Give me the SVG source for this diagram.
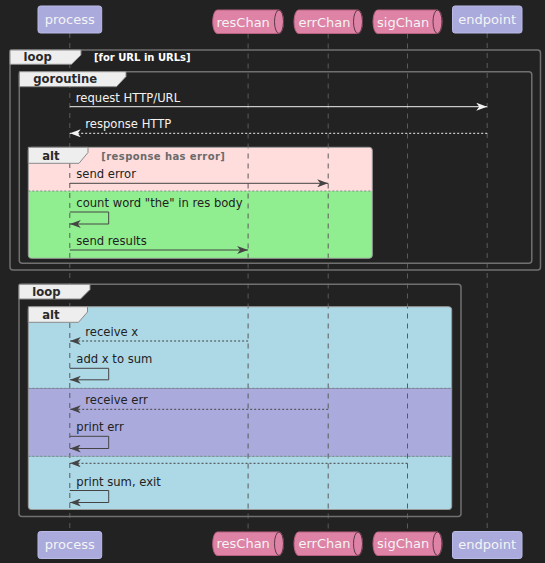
<svg xmlns="http://www.w3.org/2000/svg" width="545" height="563" viewBox="0 0 545 563">
<style>
text{font-family:"DejaVu Sans","Liberation Sans",sans-serif}
.pt{font-size:13px;fill:#f4f4f4}
.box{fill:#AAAADD;stroke:#babae6;stroke-width:1}
.q{fill:#DE82A6;stroke:#b8607f;stroke-width:1}
.cap{fill:none;stroke:#5a3a48;stroke-width:1}
.life{stroke:#5a5a5a;stroke-width:1;stroke-dasharray:5 5}
.frame{fill:none;stroke:#707070;stroke-width:1.5}
.aframe{fill:none;stroke:#9a9a9a;stroke-width:1}
.tab{fill:#EEEEEE;stroke:#8a8a8a;stroke-width:1}
.tl{font-size:11.6px;font-weight:bold;fill:#2a2a2a}
.gw{font-size:10px;font-weight:bold;fill:#ffffff}
.gg{font-size:10px;font-weight:bold;fill:#6a6a6a;letter-spacing:0.4px}
.div{stroke:#7a8a8a;stroke-width:1;stroke-dasharray:2 2}
.mw{font-size:11.6px;fill:#f2f2f2}
.md{font-size:11.6px;fill:#222222}
.lw{stroke:#f2f2f2;stroke-width:1;fill:none}
.ld{stroke:#444444;stroke-width:1;fill:none}
.dash{stroke-dasharray:2 2}
</style>
<defs>
<marker id="aw" viewBox="0 0 11 8" refX="11" refY="4" markerWidth="11" markerHeight="8" markerUnits="userSpaceOnUse" orient="auto"><path d="M0,0 L11,4 L0,8 L3,4 Z" fill="#f2f2f2"/></marker>
<marker id="ad" viewBox="0 0 11 8" refX="11" refY="4" markerWidth="11" markerHeight="8" markerUnits="userSpaceOnUse" orient="auto"><path d="M0,0 L11,4 L0,8 L3,4 Z" fill="#444444"/></marker>
</defs>
<rect x="0" y="0" width="545" height="563" fill="#222222"/>

<g id="alt-fills">
<path d="M31,147.3 H369.3 Q372.3,147.3 372.3,150.3 V191 H28.3 V150.3 Q28.3,147.3 31,147.3 Z" fill="#FFDDDD"/>
<path d="M28.3,191 H372.3 V255.3 Q372.3,258.3 369.3,258.3 H31.3 Q28.3,258.3 28.3,255.3 Z" fill="#90EE90"/>
<path d="M31,306.7 H448.7 Q451.7,306.7 451.7,309.7 V388.3 H28.3 V309.7 Q28.3,306.7 31,306.7 Z" fill="#ADD8E6"/>
<rect x="28.3" y="388.3" width="423.4" height="68" fill="#AAAADD"/>
<path d="M28.3,456.3 H451.7 V506.5 Q451.7,509.5 448.7,509.5 H31.3 Q28.3,509.5 28.3,506.5 Z" fill="#ADD8E6"/>
</g>

<g id="lifelines">
<line class="life" x1="69.8" y1="33" x2="69.8" y2="531.5"/>
<line class="life" x1="248.1" y1="33.5" x2="248.1" y2="532"/>
<line class="life" x1="328.2" y1="33.5" x2="328.2" y2="532"/>
<line class="life" x1="407.5" y1="33.5" x2="407.5" y2="532"/>
<line class="life" x1="487.2" y1="33" x2="487.2" y2="531.5"/>
</g>

<g id="loop1">
<rect class="frame" x="10" y="50" width="530.5" height="220" rx="3"/>
<path class="tab" d="M10,50 H81 V55 L71.5,64.3 H10 Z"/>
<text class="tl" x="23.5" y="61">loop</text>
<text class="gw" x="94" y="61">[for URL in URLs]</text>
</g>
<g id="goroutine">
<rect class="frame" x="19.3" y="71.7" width="512.5" height="191.6" rx="3"/>
<path class="tab" d="M19.3,71.7 H126 V76.5 L116.5,86.7 H19.3 Z"/>
<text class="tl" x="33.3" y="83">goroutine</text>
</g>
<g id="alt1">
<rect class="aframe" x="28.3" y="147.3" width="344" height="111" rx="3"/>
<path class="tab" d="M28.3,147.3 H88 V152.5 L79,163.3 H28.3 Z"/>
<text class="tl" x="42.3" y="159.5">alt</text>
<text class="gg" x="101.3" y="159.5">[response has error]</text>
<line class="div" x1="28.3" y1="191" x2="372.3" y2="191"/>
</g>
<g id="loop2">
<rect class="frame" x="19" y="284.3" width="442" height="232.2" rx="3"/>
<path class="tab" d="M19,284.3 H90 V289.5 L80.5,299 H19 Z"/>
<text class="tl" x="32.3" y="295.5">loop</text>
</g>
<g id="alt2">
<rect class="aframe" x="28.3" y="306.7" width="423.4" height="202.8" rx="3"/>
<path class="tab" d="M28.3,306.7 H87.5 V312 L78.5,322.3 H28.3 Z"/>
<text class="tl" x="42.3" y="318.5">alt</text>
<line class="div" x1="28.3" y1="388.3" x2="451.7" y2="388.3"/>
<line class="div" x1="28.3" y1="456.3" x2="451.7" y2="456.3"/>
</g>

<g id="process">
<rect class="box" x="38" y="6" width="63.7" height="27" rx="2.5"/>
<text class="pt" x="69.8" y="23.5" text-anchor="middle">process</text>
<rect class="box" x="38" y="531.5" width="63.7" height="27" rx="2.5"/>
<text class="pt" x="69.8" y="549" text-anchor="middle">process</text>
</g>
<g id="resChan">
<path class="q" d="M217.2,10 H279 A4.5,11.75 0 0 1 279,33.5 H217.2 A4.5,11.75 0 0 1 217.2,10 Z"/>
<ellipse class="cap" cx="279" cy="21.75" rx="4.5" ry="11.75"/>
<text class="pt" x="216.5" y="26.5">resChan</text>
<path class="q" d="M217.2,532 H279 A4.5,11.75 0 0 1 279,555.5 H217.2 A4.5,11.75 0 0 1 217.2,532 Z"/>
<ellipse class="cap" cx="279" cy="543.75" rx="4.5" ry="11.75"/>
<text class="pt" x="216.5" y="548">resChan</text>
</g>
<g id="errChan">
<path class="q" d="M298.5,10 H358 A4.5,11.75 0 0 1 358,33.5 H298.5 A4.5,11.75 0 0 1 298.5,10 Z"/>
<ellipse class="cap" cx="358" cy="21.75" rx="4.5" ry="11.75"/>
<text class="pt" x="298.5" y="26.5">errChan</text>
<path class="q" d="M298.5,532 H358 A4.5,11.75 0 0 1 358,555.5 H298.5 A4.5,11.75 0 0 1 298.5,532 Z"/>
<ellipse class="cap" cx="358" cy="543.75" rx="4.5" ry="11.75"/>
<text class="pt" x="298.5" y="548">errChan</text>
</g>
<g id="sigChan">
<path class="q" d="M377.5,10 H437.5 A4.5,11.75 0 0 1 437.5,33.5 H377.5 A4.5,11.75 0 0 1 377.5,10 Z"/>
<ellipse class="cap" cx="437.5" cy="21.75" rx="4.5" ry="11.75"/>
<text class="pt" x="377" y="26.5">sigChan</text>
<path class="q" d="M377.5,532 H437.5 A4.5,11.75 0 0 1 437.5,555.5 H377.5 A4.5,11.75 0 0 1 377.5,532 Z"/>
<ellipse class="cap" cx="437.5" cy="543.75" rx="4.5" ry="11.75"/>
<text class="pt" x="377" y="548">sigChan</text>
</g>
<g id="endpoint">
<rect class="box" x="452.5" y="6" width="69.5" height="27" rx="2.5"/>
<text class="pt" x="487.2" y="23.5" text-anchor="middle">endpoint</text>
<rect class="box" x="452.5" y="531.5" width="69.5" height="27" rx="2.5"/>
<text class="pt" x="487.2" y="549" text-anchor="middle">endpoint</text>
</g>

<g id="connectors">
<line class="lw" x1="69.8" y1="106.7" x2="487.2" y2="106.7" marker-end="url(#aw)"/>
<text class="mw" x="75.8" y="101.7">request HTTP/URL</text>
<line class="lw dash" x1="487.2" y1="133.3" x2="69.8" y2="133.3" marker-end="url(#aw)"/>
<text class="mw" x="85.3" y="128.3">response HTTP</text>

<line class="ld" x1="69.8" y1="183.3" x2="328.2" y2="183.3" marker-end="url(#ad)"/>
<text class="md" x="76.3" y="178.3">send error</text>
<path class="ld" d="M69.8,212 H108.7 V224 H69.8" marker-end="url(#ad)"/>
<text class="md" x="76.3" y="207">count word "the" in res body</text>
<line class="ld" x1="69.8" y1="250" x2="248.1" y2="250" marker-end="url(#ad)"/>
<text class="md" x="76.3" y="245">send results</text>

<line class="ld dash" x1="248.1" y1="341" x2="69.8" y2="341" marker-end="url(#ad)"/>
<text class="md" x="85.3" y="336">receive x</text>
<path class="ld" d="M69.8,368.3 H108.7 V379.8 H69.8" marker-end="url(#ad)"/>
<text class="md" x="76.3" y="363.3">add x to sum</text>
<line class="ld dash" x1="328.2" y1="409.3" x2="69.8" y2="409.3" marker-end="url(#ad)"/>
<text class="md" x="85.3" y="404.3">receive err</text>
<path class="ld" d="M69.8,436.3 H108.7 V448.5 H69.8" marker-end="url(#ad)"/>
<text class="md" x="76.3" y="431.3">print err</text>
<line class="ld dash" x1="407.5" y1="463.3" x2="69.8" y2="463.3" marker-end="url(#ad)"/>
<path class="ld" d="M69.8,490.5 H108.7 V502.5 H69.8" marker-end="url(#ad)"/>
<text class="md" x="76.3" y="485.5">print sum, exit</text>
</g>
</svg>
